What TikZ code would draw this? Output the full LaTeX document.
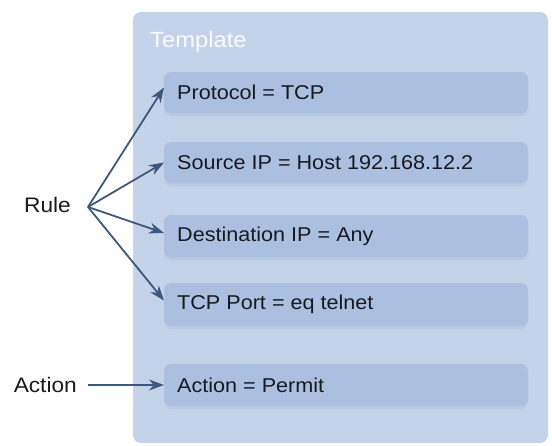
\documentclass[tikz,border=0pt]{standalone}
\usepackage{fontspec}
\setmainfont{Liberation Sans}[FakeStretch=1.08]
\usetikzlibrary{arrows.meta}
\definecolor{outerfill}{RGB}{196,211,234}
\definecolor{innerfill}{RGB}{171,191,225}
\definecolor{innershade}{RGB}{150,172,212}
\definecolor{arrowcol}{RGB}{62,88,125}
\definecolor{txt}{RGB}{25,25,30}
\tikzset{
  panel/.style={fill=outerfill, rounded corners=8pt},
  field/.style={fill=innerfill, rounded corners=7pt},
  fieldshadow/.style={fill=innershade, opacity=0.25, rounded corners=7pt},
  fieldtext/.style={anchor=west, inner sep=0pt, text=txt, font=\fontsize{20}{24}\selectfont},
  sidelabel/.style={anchor=east, inner sep=0pt, text=txt, font=\fontsize{21}{25}\selectfont},
  pointer/.style={draw=arrowcol, line width=1.8pt, -{Stealth[length=15pt, width=11pt]}}
}
\begin{document}
\begin{tikzpicture}[x=1pt, y=-1pt]
  \useasboundingbox (0,0) rectangle (552,445);
  % outer template panel
  \fill[panel] (133,12) rectangle (548,443);
  \node[anchor=base west, inner sep=0pt, text=white!92!outerfill,
        font=\fontsize{22}{26}\selectfont] (title) at (150,47) {Template};
  % fields: shadow, box, text
  \foreach \n/\t/\b/\lbl in {
      proto/72/113/{Protocol = TCP},
      src/142/183/{Source IP = Host 192.168.12.2},
      dst/215/257/{Destination IP = Any},
      port/283/326/{TCP Port = eq telnet},
      act/364/406/{Action = Permit}} {
    \fill[fieldshadow] (164,\t+3) rectangle (528,\b+3);
    \path[field] (164,\t) rectangle (528,\b);
    \coordinate (\n) at (164,{(\t+\b)/2});
    \node[fieldtext] (\n-text) at (177,{(\t+\b)/2}) {\lbl};
  }
  % left labels
  \node[sidelabel] (rule) at (71,205) {Rule};
  \node[sidelabel] (action) at (77,385) {Action};
  \coordinate (rulehub) at (88,207);
  \coordinate (actfrom) at (88,385);
  % arrows
  \draw[pointer] (rulehub) -- ([yshift=5pt]proto);
  \draw[pointer] (rulehub) -- (src);
  \draw[pointer] (rulehub) -- ([yshift=3pt]dst);
  \draw[pointer] (rulehub) -- ([yshift=4pt]port);
  \draw[pointer] (actfrom) -- (act);
\end{tikzpicture}
\end{document}
